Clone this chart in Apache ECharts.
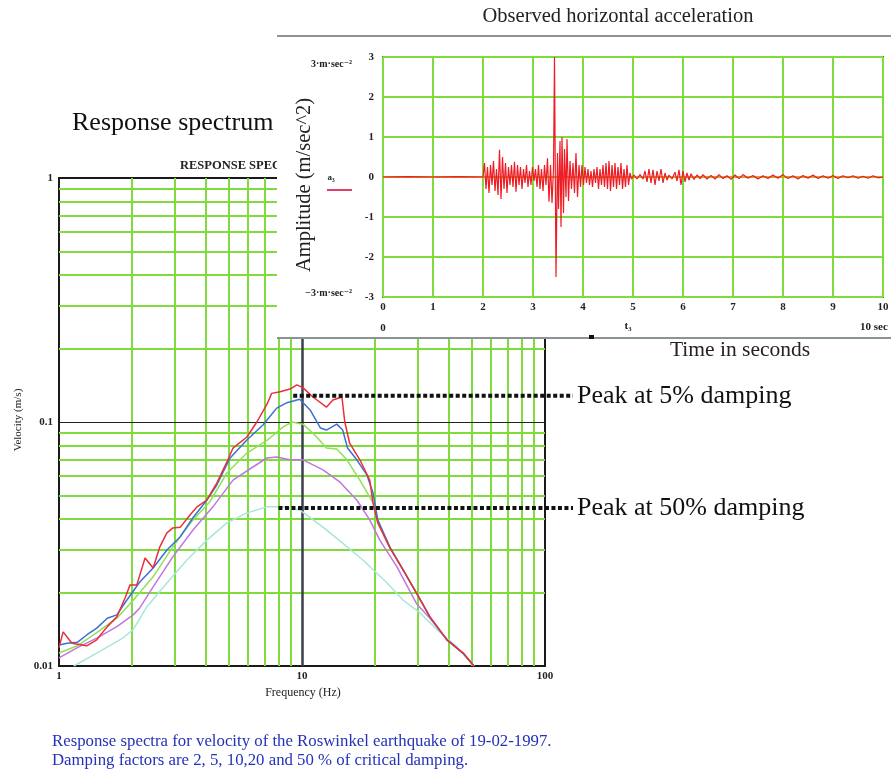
<!DOCTYPE html>
<html>
<head>
<meta charset="utf-8">
<script src="https://cdn.jsdelivr.net/npm/echarts@6/dist/echarts.min.js"></script>
<style>
html, body { margin: 0; padding: 0; background: #fff; }
#wrap { position: relative; width: 891px; height: 774px; }
#spectrum, #accel { position: absolute; left: 0; top: 0; width: 891px; height: 774px; }
</style>
</head>
<body>
<div id="wrap">
  <div id="spectrum"></div>
  <div id="accel"></div>
</div>
<script>
// ---- response spectrum data: [frequency Hz, velocity m/s] ----
const damp2 = [[1.00,0.0119],[1.04,0.0138],[1.13,0.0124],[1.30,0.0121],[1.43,0.0128],[1.58,0.0145],[1.73,0.0159],[1.87,0.0190],[1.96,0.0215],[2.09,0.0215],[2.26,0.0277],[2.44,0.0252],[2.60,0.0308],[2.78,0.0351],[2.94,0.0368],[3.15,0.0370],[3.46,0.0416],[3.70,0.0449],[4.06,0.0479],[4.46,0.0562],[4.91,0.0686],[5.20,0.0782],[5.93,0.0868],[6.52,0.100],[7.17,0.118],[7.50,0.131],[8.12,0.133],[8.92,0.1365],[9.53,0.142],[10.1,0.138],[11.1,0.1266],[12.6,0.115],[13.4,0.123],[14.6,0.1266],[15.0,0.100],[15.7,0.082],[17.3,0.070],[19.0,0.0578],[19.6,0.0466],[20.5,0.0386],[23.0,0.0305],[26.1,0.0247],[29.6,0.0199],[33.6,0.0159],[39.5,0.0128],[46.0,0.0113],[51.0,0.0100]];
const damp5 = [[1.00,0.0122],[1.08,0.0124],[1.19,0.0125],[1.30,0.0134],[1.43,0.0143],[1.58,0.0157],[1.73,0.0162],[1.90,0.0186],[2.15,0.0221],[2.44,0.0252],[2.78,0.0299],[3.15,0.0338],[3.56,0.0405],[4.06,0.0479],[4.46,0.0552],[5.06,0.0712],[5.93,0.0844],[6.91,0.0972],[7.87,0.114],[8.67,0.120],[9.78,0.124],[10.8,0.112],[11.9,0.0945],[12.6,0.0927],[13.9,0.098],[14.7,0.0927],[15.4,0.0782],[16.8,0.070],[18.5,0.0607],[19.6,0.0512],[20.5,0.0397],[23.0,0.0307],[26.1,0.0247],[29.6,0.0199],[33.6,0.0159],[39.5,0.0128],[46.0,0.0113],[51.0,0.0100]];
const damp10 = [[1.00,0.0113],[1.19,0.0121],[1.43,0.0137],[1.73,0.0157],[2.02,0.0186],[2.44,0.0232],[2.94,0.0308],[3.56,0.0397],[4.17,0.0470],[4.91,0.0618],[5.93,0.0746],[7.17,0.0840],[8.37,0.0955],[9.10,0.100],[10.1,0.098],[11.5,0.0868],[12.6,0.0782],[13.9,0.0775],[15.3,0.070],[17.3,0.0578],[19.6,0.0466],[20.5,0.0390],[23.0,0.0305],[26.1,0.0247],[29.6,0.0199],[33.6,0.0159],[39.5,0.0128],[46.0,0.0113],[51.0,0.0100]];
const damp20 = [[1.00,0.0108],[1.19,0.0119],[1.43,0.0130],[1.73,0.0145],[2.02,0.0162],[2.15,0.0173],[2.44,0.0211],[2.94,0.0280],[3.56,0.0361],[4.30,0.0449],[5.20,0.0578],[6.28,0.0654],[7.17,0.0712],[7.87,0.0719],[8.92,0.0700],[10.1,0.0700],[12.2,0.0636],[14.3,0.0568],[16.8,0.0479],[19.0,0.0397],[20.9,0.0328],[24.6,0.0255],[29.6,0.0180],[33.6,0.0157],[39.5,0.0128],[46.0,0.0113],[51.0,0.0100]];
const damp50 = [[1.15,0.0100],[1.43,0.0113],[1.83,0.0130],[2.02,0.0141],[2.30,0.0175],[2.78,0.0219],[3.36,0.0272],[4.06,0.0328],[4.91,0.0386],[5.93,0.0424],[7.17,0.0449],[8.37,0.0449],[9.78,0.0436],[12.2,0.0371],[14.7,0.0319],[17.8,0.0272],[22.4,0.0219],[26.1,0.0186],[30.6,0.0165],[35.9,0.0141],[43.3,0.0120],[51.0,0.0100]];

const freqMinor = [2, 3, 4, 5, 6, 7, 8, 9, 20, 30, 40, 50, 60, 70, 80, 90];
const velMinor = [0.02, 0.03, 0.04, 0.05, 0.06, 0.07, 0.08, 0.09, 0.2, 0.3, 0.4, 0.5, 0.6, 0.7, 0.8, 0.9];
const freqDecade = [10];
const velDecade = [0.1];

// peak markers: [frequency where dotted line starts, velocity]
const peak5 = [9.2, 0.128];
const peak50 = [8.0, 0.0444];

// ---- observed acceleration: [time s, amplitude m/s^2] ----
const accQuiet = [[0,0],[0.5,0.01],[1.0,0],[1.5,0.01],[2.0,0]];
const accStrong = [[2.03,0.35],[2.06,-0.3],[2.09,0.25],[2.12,-0.4],[2.15,0.3],[2.18,-0.2],[2.21,0.4],[2.24,-0.35],[2.27,0.2],[2.30,-0.45],[2.33,0.68],[2.36,-0.55],[2.39,0.5],[2.42,-0.3],[2.45,0.35],[2.48,-0.4],[2.51,0.25],[2.54,-0.2],[2.57,0.3],[2.60,-0.25],[2.63,0.38],[2.66,-0.37],[2.69,0.3],[2.72,-0.2],[2.75,0.25],[2.78,-0.3],[2.81,0.2],[2.84,-0.15],[2.87,0.3],[2.90,-0.25],[2.93,0.15],[2.96,-0.2],[2.99,0.25],[3.02,-0.1],[3.05,0.2],[3.08,-0.25],[3.11,0.3],[3.14,-0.3],[3.17,0.2],[3.20,-0.35],[3.23,0.3],[3.26,-0.2],[3.29,0.47],[3.32,-0.62],[3.35,0.3],[3.38,-0.65],[3.41,0.2],[3.43,3.0],[3.46,-2.5],[3.49,0.6],[3.51,-0.8],[3.54,0.9],[3.56,-1.25],[3.58,1.0],[3.61,-0.9],[3.63,0.7],[3.66,-0.5],[3.68,0.95],[3.71,-0.6],[3.74,0.4],[3.77,-0.3],[3.80,0.35],[3.83,-0.4],[3.86,0.6],[3.89,-0.5],[3.92,0.3],[3.95,-0.25],[3.98,0.3],[4.01,-0.2],[4.04,0.25],[4.07,-0.15],[4.10,0.2],[4.13,-0.2],[4.16,0.15],[4.19,-0.25],[4.22,0.2],[4.25,-0.15],[4.28,0.25],[4.31,-0.3],[4.34,0.2],[4.37,-0.2],[4.40,0.3],[4.43,-0.25],[4.46,0.35],[4.49,-0.3],[4.52,0.4],[4.55,-0.35],[4.58,0.3],[4.61,-0.25],[4.64,0.35],[4.67,-0.3],[4.70,0.25],[4.73,-0.2],[4.76,0.35],[4.79,-0.3],[4.82,0.2],[4.85,-0.25],[4.88,0.3],[4.91,-0.2],[4.94,0.1],[4.97,-0.05]];
const accCoda = [[5.02,0.05],[5.08,-0.05],[5.14,0.06],[5.20,-0.05],[5.24,0.15],[5.28,-0.12],[5.32,0.2],[5.36,-0.15],[5.40,0.18],[5.44,-0.2],[5.48,0.15],[5.52,-0.1],[5.56,0.2],[5.60,-0.15],[5.64,0.1],[5.68,-0.08],[5.72,0.05],[5.78,-0.05],[5.84,0.12],[5.88,-0.1],[5.92,0.18],[5.96,-0.2],[6.00,0.15],[6.04,-0.12],[6.08,0.1],[6.12,-0.08],[6.16,0.08],[6.22,-0.06],[6.28,0.05],[6.34,-0.04],[6.40,0.06],[6.48,-0.05],[6.56,0.04],[6.64,-0.05],[6.72,0.06],[6.80,-0.04],[6.88,0.03],[6.96,-0.06],[7.04,0.05],[7.12,-0.04],[7.20,0.06],[7.30,-0.03],[7.40,0.04],[7.50,-0.05],[7.60,0.03],[7.70,-0.04],[7.80,0.05],[7.90,-0.03],[8.00,0.06],[8.10,-0.04],[8.20,0.03],[8.30,-0.05],[8.40,0.04],[8.50,-0.03],[8.60,0.05],[8.70,-0.04],[8.80,0.03],[8.90,-0.03],[9.00,0.04],[9.10,-0.04],[9.20,0.03],[9.30,-0.02],[9.40,0.03],[9.50,-0.03],[9.60,0.02],[9.70,-0.03],[9.80,0.03],[9.90,-0.02],[10.0,0]];
const accZero = [[0,0],[10,0]];

const serif = '"Liberation Serif", "DejaVu Serif", serif';
const gridGreen = '#7fdc3c';

// ---------------- spectrum chart ----------------
const spectrumChart = echarts.init(document.getElementById('spectrum'));

const gridLines = [];
freqMinor.forEach(f => gridLines.push({ xAxis: f, lineStyle: { color: gridGreen, width: 2, type: 'solid' } }));
velMinor.forEach(v => gridLines.push({ yAxis: v, lineStyle: { color: gridGreen, width: 2, type: 'solid' } }));
freqDecade.forEach(f => gridLines.push({ xAxis: f, lineStyle: { color: '#3a4048', width: 2.5, type: 'solid' } }));
velDecade.forEach(v => gridLines.push({ yAxis: v, lineStyle: { color: '#222', width: 1.2, type: 'solid' } }));

const curve = (name, data, color) => ({
  name: name,
  type: 'line',
  data: data,
  showSymbol: false,
  z: 5,
  lineStyle: { color: color, width: 1.5 }
});

spectrumChart.setOption({
  animation: false,
  backgroundColor: '#fff',
  grid: {
    left: 59, right: 346, top: 178, bottom: 108,
    show: true, borderColor: '#1a1a1a', borderWidth: 2,
    containLabel: false, outerBoundsMode: 'none'
  },
  xAxis: {
    type: 'log', logBase: 10, min: 1, max: 100,
    axisLine: { show: false },
    axisTick: { show: false },
    splitLine: { show: false },
    axisLabel: { color: '#222', fontFamily: serif, fontSize: 11, fontWeight: 'bold', margin: 5 }
  },
  yAxis: {
    type: 'log', logBase: 10, min: 0.01, max: 1,
    axisLine: { show: false },
    axisTick: { show: false },
    splitLine: { show: false },
    axisLabel: { color: '#222', fontFamily: serif, fontSize: 11, fontWeight: 'bold', margin: 6 }
  },
  series: [
    {
      name: 'grid', type: 'line', data: [[1, 0.01]], showSymbol: false, z: 1,
      lineStyle: { width: 0 },
      markLine: {
        silent: true, symbol: ['none', 'none'], label: { show: false },
        animation: false, data: gridLines
      }
    },
    curve('50%', damp50, '#a8e6dc'),
    curve('20%', damp20, '#c275e0'),
    curve('10%', damp10, '#8fe05a'),
    curve('5%', damp5, '#3e6fd6'),
    curve('2%', damp2, '#e8303a')
  ]
});

const p5 = spectrumChart.convertToPixel({ gridIndex: 0 }, peak5);
const p50 = spectrumChart.convertToPixel({ gridIndex: 0 }, peak50);

spectrumChart.setOption({
  graphic: [
    { type: 'text', x: 180, y: 166, z: 50, style: { text: 'RESPONSE SPECTRUM', font: 'bold 12.5px ' + serif, fill: '#222', verticalAlign: 'middle' } },
    { type: 'rect', shape: { x: 277, y: 0, width: 614, height: 339 }, z: 100, style: { fill: '#fff' } },
    { type: 'text', x: 72, y: 123, z: 50, style: { text: 'Response spectrum', font: '26px ' + serif, fill: '#111', verticalAlign: 'middle' } },
    { type: 'text', x: 18, y: 420, rotation: Math.PI / 2, z: 50, style: { text: 'Velocity (m/s)', font: '11px ' + serif, fill: '#222', align: 'center', verticalAlign: 'middle' } },
    { type: 'text', x: 303, y: 693, z: 50, style: { text: 'Frequency (Hz)', font: '12px ' + serif, fill: '#222', align: 'center', verticalAlign: 'middle' } },
    { type: 'line', z: 60, shape: { x1: p5[0], y1: p5[1], x2: 573, y2: p5[1] }, style: { stroke: '#111', lineWidth: 4, lineDash: [4, 2.5] } },
    { type: 'line', z: 60, shape: { x1: p50[0], y1: p50[1], x2: 573, y2: p50[1] }, style: { stroke: '#111', lineWidth: 4, lineDash: [4, 2.5] } },
    { type: 'text', x: 577, y: p5[1], z: 60, style: { text: 'Peak at 5% damping', font: '26px ' + serif, fill: '#111', verticalAlign: 'middle' } },
    { type: 'text', x: 577, y: p50[1], z: 60, style: { text: 'Peak at 50% damping', font: '26px ' + serif, fill: '#111', verticalAlign: 'middle' } },
    { type: 'text', x: 52, y: 742, z: 50, style: { text: 'Response spectra for velocity of the Roswinkel earthquake of 19-02-1997.', font: '16.8px ' + serif, fill: '#2432b8', verticalAlign: 'middle' } },
    { type: 'text', x: 52, y: 761, z: 50, style: { text: 'Damping factors are 2, 5, 10,20 and 50 % of critical damping.', font: '16.8px ' + serif, fill: '#2432b8', verticalAlign: 'middle' } }
  ]
});

// ---------------- acceleration inset ----------------
const accelChart = echarts.init(document.getElementById('accel'));
const tickLabel = { color: '#222', fontFamily: serif, fontSize: 11, fontWeight: 'bold' };

accelChart.setOption({
  animation: false,
  grid: {
    left: 383, right: 8, top: 57, bottom: 477,
    show: true, borderColor: '#2f8f2f', borderWidth: 2,
    containLabel: false, outerBoundsMode: 'none'
  },
  xAxis: {
    type: 'value', min: 0, max: 10, interval: 1,
    axisLine: { show: false }, axisTick: { show: false },
    splitLine: { lineStyle: { color: gridGreen, width: 2 } },
    axisLabel: Object.assign({ margin: 5 }, tickLabel)
  },
  yAxis: {
    type: 'value', min: -3, max: 3, interval: 1,
    axisLine: { show: false }, axisTick: { show: false },
    splitLine: { lineStyle: { color: gridGreen, width: 2 } },
    axisLabel: Object.assign({ margin: 9 }, tickLabel)
  },
  series: [
    { name: 'zero', type: 'line', data: accZero, showSymbol: false, z: 3, lineStyle: { color: '#e8902a', width: 1.5 } },
    { name: 'a3', type: 'line', data: accQuiet.concat(accStrong, accCoda), showSymbol: false, z: 4, lineStyle: { color: '#ee1c24', width: 1.2 } }
  ],
  graphic: [
    { type: 'text', x: 618, y: 17, style: { text: 'Observed horizontal acceleration', font: '20.5px ' + serif, fill: '#222', align: 'center', verticalAlign: 'middle' } },
    { type: 'line', shape: { x1: 277, y1: 36, x2: 891, y2: 36 }, style: { stroke: '#8b9393', lineWidth: 2 } },
    { type: 'line', shape: { x1: 277, y1: 338, x2: 891, y2: 338 }, style: { stroke: '#8b9393', lineWidth: 2 } },
    { type: 'text', x: 352, y: 64, style: { text: '3·m·sec⁻²', font: 'bold 10px ' + serif, fill: '#222', align: 'right', verticalAlign: 'middle' } },
    { type: 'text', x: 352, y: 293, style: { text: '−3·m·sec⁻²', font: 'bold 10px ' + serif, fill: '#222', align: 'right', verticalAlign: 'middle' } },
    { type: 'text', x: 305, y: 185, rotation: Math.PI / 2, style: { text: 'Amplitude (m/sec^2)', font: '20.5px ' + serif, fill: '#222', align: 'center', verticalAlign: 'middle' } },
    { type: 'text', x: 331, y: 178, style: { text: 'a₃', font: 'bold 9px ' + serif, fill: '#222', align: 'center', verticalAlign: 'middle' } },
    { type: 'line', shape: { x1: 327, y1: 190, x2: 352, y2: 190 }, style: { stroke: '#e0406a', lineWidth: 2 } },
    { type: 'text', x: 383, y: 328, style: { text: '0', font: 'bold 11px ' + serif, fill: '#222', align: 'center', verticalAlign: 'middle' } },
    { type: 'text', x: 628, y: 326, style: { text: 't₃', font: 'bold 11px ' + serif, fill: '#222', align: 'center', verticalAlign: 'middle' } },
    { type: 'text', x: 860, y: 327, style: { text: '10 sec', font: 'bold 11px ' + serif, fill: '#222', verticalAlign: 'middle' } },
    { type: 'rect', shape: { x: 589, y: 335, width: 5, height: 4 }, style: { fill: '#111' } },
    { type: 'text', x: 740, y: 350, style: { text: 'Time in seconds', font: '21.5px ' + serif, fill: '#222', align: 'center', verticalAlign: 'middle' } }
  ]
});
</script>
</body>
</html>
